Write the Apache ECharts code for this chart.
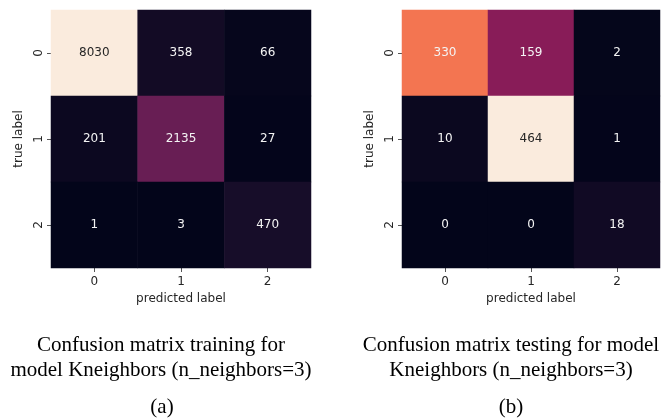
<!DOCTYPE html>
<html>
<head>
<meta charset="utf-8">
<script src="https://cdn.jsdelivr.net/npm/echarts@6/dist/echarts.min.js"></script>
<style>
  html, body { margin: 0; padding: 0; background: #ffffff; }
  #chart { width: 662px; height: 418px; }
</style>
</head>
<body>
<div id="chart"></div>
<script>
// Class labels shared by both confusion matrices
const classLabels = ['0', '1', '2'];

// Rows = true label, columns = predicted label
const trainMatrix = [
  [8030, 358, 66],
  [201, 2135, 27],
  [1, 3, 470]
];
const testMatrix = [
  [330, 159, 2],
  [10, 464, 1],
  [0, 0, 18]
];

const trainCaption = 'Confusion matrix training for\nmodel Kneighbors (n_neighbors=3)';
const testCaption = 'Confusion matrix testing for model\nKneighbors (n_neighbors=3)';
const trainTag = '(a)';
const testTag = '(b)';

// "rocket" sequential colour map, evenly spaced stops
const rocket = ['#03051a', '#35193e', '#701f57', '#ad1759', '#e13342', '#f37651', '#f6b48f', '#faebdd'];

function hexToRgb(h) {
  return [parseInt(h.slice(1, 3), 16), parseInt(h.slice(3, 5), 16), parseInt(h.slice(5, 7), 16)];
}
function rocketAt(t) {
  const p = Math.max(0, Math.min(1, t)) * (rocket.length - 1);
  const i = Math.min(Math.floor(p), rocket.length - 2);
  const f = p - i;
  const a = hexToRgb(rocket[i]), b = hexToRgb(rocket[i + 1]);
  return a.map((v, k) => v + (b[k] - v) * f);
}
function luminance(rgb) {
  const c = rgb.map(v => {
    v = v / 255;
    return v <= 0.03928 ? v / 12.92 : Math.pow((v + 0.055) / 1.055, 2.4);
  });
  return 0.2126 * c[0] + 0.7152 * c[1] + 0.0722 * c[2];
}

// Annotation colour follows the cell's brightness: dark text on light cells
function buildCells(matrix) {
  const flat = matrix.flat();
  const lo = Math.min(...flat), hi = Math.max(...flat);
  const cells = [];
  matrix.forEach((row, r) => {
    row.forEach((v, c) => {
      const lum = luminance(rocketAt((v - lo) / (hi - lo)));
      cells.push({
        value: [c, r, v],
        label: { color: lum > 0.408 ? '#262626' : '#f4f4f4' }
      });
    });
  });
  return { cells, lo, hi };
}

const train = buildCells(trainMatrix);
const test = buildCells(testMatrix);

const axisText = { color: '#262626', fontSize: 12, fontFamily: 'DejaVu Sans' };

function xAxisFor(gridIndex) {
  return {
    type: 'category', gridIndex, data: classLabels,
    axisLine: { show: false },
    axisTick: { show: true, alignWithLabel: true, length: 4, lineStyle: { color: '#555555' } },
    axisLabel: Object.assign({ margin: 8 }, axisText),
    splitLine: { show: false },
    name: 'predicted label', nameLocation: 'middle', nameGap: 25,
    nameTextStyle: axisText
  };
}
function yAxisFor(gridIndex) {
  return {
    type: 'category', gridIndex, data: classLabels, inverse: true,
    axisLine: { show: false },
    axisTick: { show: true, alignWithLabel: true, length: 4, lineStyle: { color: '#555555' } },
    axisLabel: Object.assign({ margin: 6, rotate: 90 }, axisText),
    splitLine: { show: false },
    name: 'true label', nameLocation: 'middle', nameGap: 26,
    nameTextStyle: axisText
  };
}

const captionStyle = { fontFamily: 'Liberation Serif', fontSize: 21, fontWeight: 'normal', color: '#000000', lineHeight: 25 };

const cellLabel = { show: true, fontSize: 12, fontFamily: 'DejaVu Sans', formatter: p => String(p.value[2]) };

const chart = echarts.init(document.getElementById('chart'), null, { renderer: 'canvas' });
chart.setOption({
  backgroundColor: '#ffffff',
  animation: false,
  title: [
    { text: trainCaption, left: 161, top: 333, textAlign: 'center', padding: 0, textStyle: Object.assign({ align: 'center' }, captionStyle) },
    { text: testCaption, left: 511, top: 333, textAlign: 'center', padding: 0, textStyle: Object.assign({ align: 'center' }, captionStyle) },
    { text: trainTag, left: 162, top: 395, textAlign: 'center', padding: 0, textStyle: captionStyle },
    { text: testTag, left: 511, top: 395, textAlign: 'center', padding: 0, textStyle: captionStyle }
  ],
  grid: [
    { left: 51, top: 10, width: 260, height: 258 },
    { left: 402, top: 10, width: 258, height: 258 }
  ],
  xAxis: [xAxisFor(0), xAxisFor(1)],
  yAxis: [yAxisFor(0), yAxisFor(1)],
  visualMap: [
    { show: false, seriesIndex: 0, dimension: 2, min: train.lo, max: train.hi, inRange: { color: rocket } },
    { show: false, seriesIndex: 1, dimension: 2, min: test.lo, max: test.hi, inRange: { color: rocket } }
  ],
  series: [
    {
      type: 'heatmap', xAxisIndex: 0, yAxisIndex: 0, data: train.cells,
      label: cellLabel,
      itemStyle: { borderWidth: 0 },
      emphasis: { disabled: true }
    },
    {
      type: 'heatmap', xAxisIndex: 1, yAxisIndex: 1, data: test.cells,
      label: cellLabel,
      itemStyle: { borderWidth: 0 },
      emphasis: { disabled: true }
    }
  ]
});
</script>
</body>
</html>
